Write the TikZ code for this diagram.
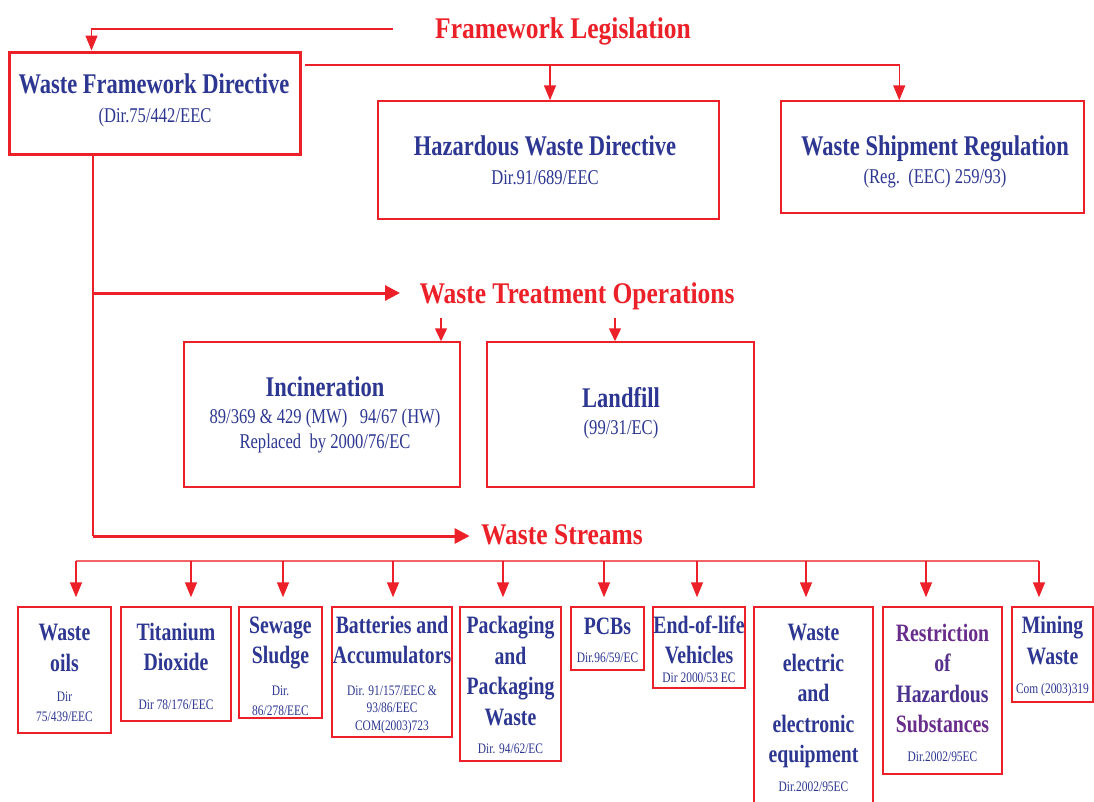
\documentclass[tikz,border=0pt]{standalone}
\usepackage{fontspec}
\setmainfont{Liberation Serif}
\newfontfamily\cf[FakeStretch=0.85]{Liberation Serif}
\newfontfamily\cfn[FakeStretch=0.79]{Liberation Serif}
\usetikzlibrary{arrows.meta}
\definecolor{myred}{RGB}{236,32,40}
\definecolor{tblue}{RGB}{45,55,145}
\definecolor{tpurp}{RGB}{105,45,140}
\begin{document}
\begin{tikzpicture}[x=1pt,y=-1pt,
  box/.style={draw=myred, line width=1.5pt, inner sep=0pt},
  head/.style={text=myred, font=\cf\bfseries\fontsize{30}{36}\selectfont},
  ttl/.style={text=tblue, font=\cfn\bfseries\fontsize{28.5}{32}\selectfont, inner sep=0pt},
  sub/.style={text=tblue, font=\cfn\fontsize{21}{27}\selectfont, inner sep=0pt, align=center},
  bt/.style={text=tblue, font=\cfn\bfseries\fontsize{25}{30.5}\selectfont, align=center, inner sep=0pt},
  bs/.style={text=tblue, font=\cfn\fontsize{14.5}{20}\selectfont, align=center, inner sep=0pt},
  ln/.style={draw=myred, line width=1.5pt},
  bus/.style={draw=myred!70, line width=1.5pt},
  arr/.style={ln, -{Triangle[width=12pt,length=15pt]}},
  sarr/.style={ln, -{Triangle[width=12pt,length=13pt]}},
  tarr/.style={draw=myred, line width=3pt, -{Triangle[width=15pt,length=15pt]}}]
\useasboundingbox (0,0) rectangle (1094,801);
\fill[white] (0,0) rectangle (1094,801);

% headings
\node[head] (FL) at (563,31) {Framework Legislation};
\node[head] (WTO) at (577,296) {Waste Treatment Operations};
\node[head] (WS) at (562,535) {Waste Streams};

% top boxes
\node[box, line width=3pt, minimum width=291pt, minimum height=102pt] (WFD) at (154.5,103) {};
\node[ttl] (WFDt) at (154,84) {Waste Framework Directive};
\node[sub] (WFDs) at (155,117) {(Dir.75/442/EEC};

\node[box, minimum width=341pt, minimum height=118pt] (HAZ) at (548.5,160) {};
\node[ttl] (HAZt) at (545,146) {Hazardous Waste Directive};
\node[sub] (HAZs) at (545,178) {Dir.91/689/EEC};

\node[box, minimum width=303pt, minimum height=112pt] (SHIP) at (932.5,157) {};
\node[ttl] (SHIPt) at (935,149) {Waste Shipment Regulation};
\node[sub] (SHIPs) at (935,178) {(Reg.\ \ (EEC) 259/93)};

% treatment boxes
\node[box, minimum width=276pt, minimum height=145pt] (INC) at (322,414.5) {};
\node[ttl] (INCt) at (325,387) {Incineration};
\node[sub] (INCs) at (325,418) {89/369 \& 429 (MW)\ \ \ 94/67 (HW)};
\node[sub] (INCr) at (325,443) {Replaced\ \ by 2000/76/EC};

\node[box, minimum width=267pt, minimum height=145pt] (LAND) at (620.5,414.5) {};
\node[ttl] (LANDt) at (621,398) {Landfill};
\node[sub] (LANDs) at (621,429) {(99/31/EC)};

% connectors top
\coordinate (flstart) at (393,29);
\draw[arr] (flstart) -| ([xshift=84pt]WFD.north west);
\coordinate (wfdout) at (305,65);
\coordinate (hz) at (550,65);
\draw[arr] (wfdout) -| ([xshift=119pt]SHIP.north west);
\draw[arr] (hz) -- (hz |- HAZ.north);

% spine
\coordinate (sp0) at (93,154);
\coordinate (spA) at (93,293);
\coordinate (spB) at (93,536);
\draw[ln] (sp0) -- (spB);
\draw[tarr] (spA) -- ([xshift=-16pt]WTO.west |- spA);
\draw[tarr] (spB) -- ([xshift=-8pt]WS.west |- spB);

\coordinate (w1) at (441,318);
\coordinate (w2) at (615,318);
\draw[sarr] (w1) -- (w1 |- INC.north);
\draw[sarr] (w2) -- (w2 |- LAND.north);

% bottom boxes
\node[box, minimum width=93pt, minimum height=126pt] (B1) at (64.5,670) {};
\node[box, minimum width=110pt, minimum height=114pt] (B2) at (176,664) {};
\node[box, minimum width=83pt, minimum height=111pt] (B3) at (280.5,662.5) {};
\node[box, minimum width=120pt, minimum height=130pt] (B4) at (392,672) {};
\node[box, minimum width=101pt, minimum height=154pt] (B5) at (510.5,684) {};
\node[box, minimum width=73pt, minimum height=63pt] (B6) at (607.5,638.5) {};
\node[box, minimum width=92pt, minimum height=81pt] (B7) at (699,647.5) {};
\node[box, minimum width=119pt, minimum height=205pt] (B8) at (813.5,709.5) {};
\node[box, minimum width=119pt, minimum height=167pt] (B9) at (942.5,690.5) {};
\node[box, minimum width=81pt, minimum height=95pt] (B10) at (1052.5,654.5) {};

\node[bt] (t1) at (64.5,648) {Waste\\oils};
\node[bs] (d1) at (64.5,707) {Dir\\75/439/EEC};
\node[bt] (t2) at (176,647) {Titanium\\Dioxide};
\node[bs] (d2) at (176,705) {Dir 78/176/EEC};
\node[bt] (t3) at (280.5,643) {Sewage\\Sludge};
\node[bs] (d3) at (280.5,700.5) {Dir.\\86/278/EEC};
\node[bt] (t4) at (392,640) {Batteries and\\Accumulators};
\node[bs, font=\cfn\fontsize{14.5}{17.5}\selectfont] (d4) at (392,709.5) {Dir. 91/157/EEC \&\\93/86/EEC\\COM(2003)723};
\node[bt] (t5) at (510.5,671) {Packaging\\and\\Packaging\\Waste};
\node[bs] (d5) at (510.5,749) {Dir. 94/62/EC};
\node[bt] (t6) at (607.5,626) {PCBs};
\node[bs] (d6) at (607.5,658) {Dir.96/59/EC};
\node[bt] (t7) at (699,640) {End-of-life\\Vehicles};
\node[bs] (d7) at (699,678) {Dir 2000/53 EC};
\node[bt] (t8) at (813.5,696) {Waste\\electric\\and\\electronic\\equipment};
\node[bs] (d8) at (813.5,787) {Dir.2002/95EC};
\node[bt] (t9) at (942.5,678.5) {\textcolor{tpurp}{Restriction}\\\textcolor{tpurp!70!tblue}{of}\\\textcolor{tpurp!50!tblue}{Hazardous}\\\textcolor{tpurp}{Substances}};
\node[bs] (d9) at (942.5,757) {Dir.2002/95EC};
\node[bt] (t10) at (1052.5,640.5) {Mining\\Waste};
\node[bs] (d10) at (1052.5,690) {Com (2003)319};

% bus
\coordinate (s1) at (76,561);
\coordinate (s2) at (191,561);
\coordinate (s3) at (283,561);
\coordinate (s4) at (393,561);
\coordinate (s5) at (503,561);
\coordinate (s6) at (604,561);
\coordinate (s7) at (697,561);
\coordinate (s8) at (806,561);
\coordinate (s9) at (926,561);
\coordinate (s10) at (1039,561);
\draw[bus] (s1) -- (s10);
\foreach \i in {1,...,10}{
  \draw[arr, shorten >=9pt] (s\i) -- (s\i |- B\i.north);
}
\end{tikzpicture}
\end{document}
